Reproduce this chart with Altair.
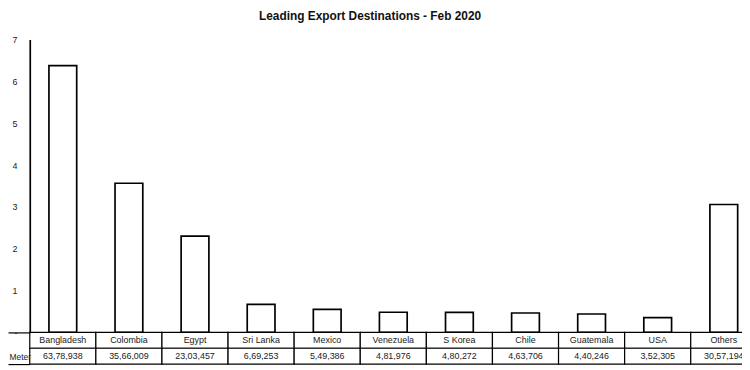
import altair as alt
import pandas as pd

# ---- data ----
categories = ["Bangladesh", "Colombia", "Egypt", "Sri Lanka", "Mexico", "Venezuela",
              "S Korea", "Chile", "Guatemala", "USA", "Others"]
meter_text = ["63,78,938", "35,66,009", "23,03,457", "6,69,253", "5,49,386", "4,81,976",
              "4,80,272", "4,63,706", "4,40,246", "3,52,305", "30,57,194"]
y_ticks = [0, 1, 2, 3, 4, 5, 6, 7]
row_label = "Meter"
title_text = "Leading Export Destinations - Feb 2020"

values_m = [int(s.replace(",", "")) / 1e6 for s in meter_text]

bars_df = pd.DataFrame({"dest": categories, "m": values_m})
table_df = pd.DataFrame({
    "dest": categories * 2,
    "row": ["name"] * len(categories) + ["value"] * len(categories),
    "text": categories + meter_text,
})

FONT = "Liberation Sans"
X_RANGE = [0, 735]

bars = alt.Chart(bars_df).mark_bar(fill="white", stroke="black", strokeWidth=1.7).encode(
    x=alt.X("dest:N", sort=categories, axis=None,
            scale=alt.Scale(range=X_RANGE, paddingInner=0.58, paddingOuter=0.29)),
    y=alt.Y("m:Q",
            scale=alt.Scale(domain=[0, 7], range=[296, 0], nice=False),
            axis=alt.Axis(values=y_ticks, title=None, grid=False, ticks=False,
                          labelPadding=13, labelAlign="right",
                          labelExpr="datum.value == 0 ? '-' : datum.label",
                          labelFont=FONT, labelFontSize=9, labelColor="#222",
                          domainColor="black", domainWidth=1.7)),
)

table_x = alt.X("dest:N", sort=categories, axis=None,
                scale=alt.Scale(range=X_RANGE, paddingInner=0, paddingOuter=0))
table_axis = alt.Axis(orient="left", title=None, domain=False, ticks=True,
                      tickBand="extent", tickSize=22, tickColor="black", tickWidth=1.2,
                      tickOpacity={"expr": "datum.value == 'name' ? 0 : 1"},
                      labelExpr=f"datum.value == 'value' ? '{row_label}' : ''",
                      labelAlign="left", labelPadding=-1,
                      labelFont=FONT, labelFontSize=8.5, labelColor="#222")
table_y = alt.Y("row:N", scale=alt.Scale(domain=["name", "value"], range=[296, 328],
                                          paddingInner=0, paddingOuter=0),
                axis=table_axis)

cells = alt.Chart(table_df).mark_rect(fill="white", stroke="black", strokeWidth=1.2).encode(
    x=table_x, y=table_y)
texts = alt.Chart(table_df).mark_text(font=FONT, fontSize=9, color="#222").encode(
    x=table_x, y=table_y, text="text:N")

table = alt.layer(cells, texts)

chart = alt.layer(bars, table).resolve_scale(x="independent", y="independent").properties(
    width=720, height=328,
    autosize=alt.AutoSizeParams(type="none"),
    padding={"left": 22, "top": 30, "right": 0, "bottom": 0},
    title=alt.TitleParams(title_text, font=FONT, fontSize=12,
                          fontWeight="bold", color="#111", anchor="middle",
                          dx=-16, offset=13),
    background="white",
).configure_view(stroke=None)

chart.save("out.html", embed_options={"renderer": "svg", "actions": False})
